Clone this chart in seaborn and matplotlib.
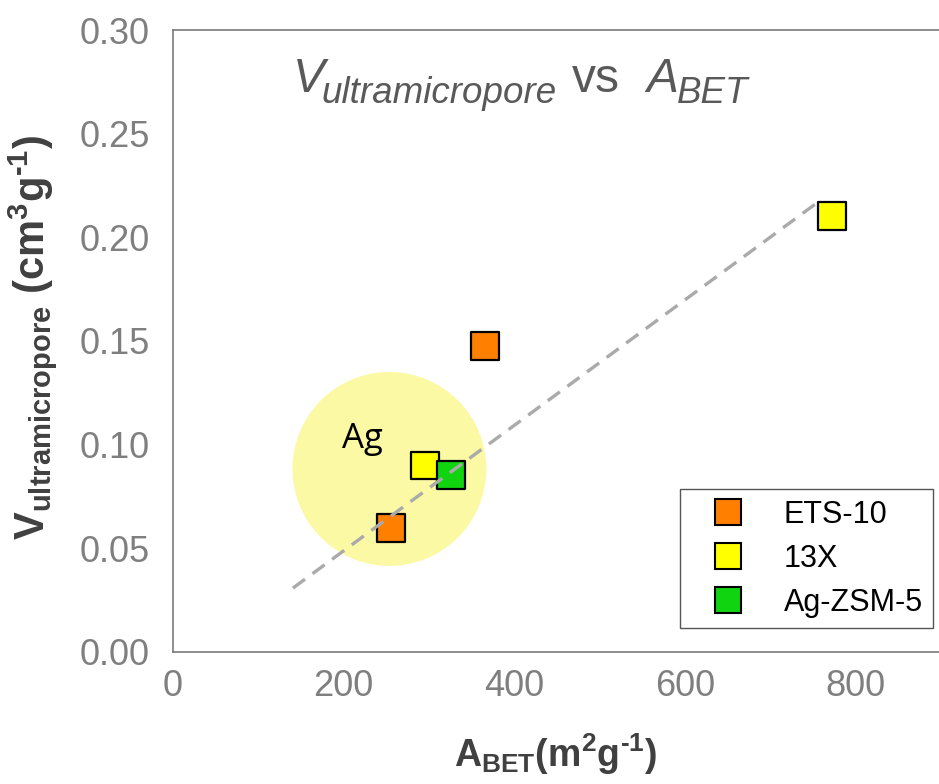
import matplotlib
matplotlib.use("Agg")
import matplotlib.pyplot as plt
import seaborn as sns
import pandas as pd
from matplotlib.patches import Ellipse
from matplotlib.lines import Line2D
from matplotlib.ticker import MultipleLocator

# ---------------- data ----------------
materials = ["ETS-10", "ETS-10", "13X", "13X", "Ag-ZSM-5"]
a_bet = [256, 366, 296, 772, 326]                    # m2/g
v_ultra = [0.0597, 0.1475, 0.0898, 0.2103, 0.0854]   # cm3/g
legend_order = ["ETS-10", "13X", "Ag-ZSM-5"]
colors = ["#FF7F00", "#FFFF00", "#11D411"]
fit_x = [141, 756]
fit_y = [0.0307, 0.2170]
x_ticks = [0, 200, 400, 600, 800]
y_ticks = [0.00, 0.05, 0.10, 0.15, 0.20, 0.25, 0.30]
ag_label = "Ag"
ag_center = (254, 0.0882)
ag_size = (227, 0.0936)

df = pd.DataFrame({"material": materials, "A_BET": a_bet, "V": v_ultra})
palette = dict(zip(legend_order, colors))

sns.set_style("white")
FONT = "Liberation Sans"
plt.rcParams["font.family"] = [FONT, "DejaVu Sans"]
plt.rcParams["mathtext.fontset"] = "custom"
plt.rcParams["mathtext.rm"] = FONT
plt.rcParams["mathtext.it"] = FONT + ":italic"
plt.rcParams["mathtext.bf"] = FONT + ":bold"
plt.rcParams["mathtext.default"] = "bf"

W, H = 939, 784
fig = plt.figure(figsize=(W / 100, H / 100), dpi=100)
left_px, right_px, top_px, bottom_px = 172.5, 939.0, 30.0, 651.7
ax = fig.add_axes([left_px / W, 1 - bottom_px / H,
                   (right_px - left_px) / W, (bottom_px - top_px) / H])

SPINE = "#707070"
TICKLAB = "#7f7f7f"

# highlight circle
ax.add_patch(Ellipse(ag_center, ag_size[0], ag_size[1],
                     facecolor="#fbf9a4", edgecolor="none", zorder=1))
ax.text(198, 0.0982, ag_label, fontsize=25, family=["Open Sans", "DejaVu Sans"],
        color="black", ha="left", va="baseline", zorder=2)

sns.scatterplot(data=df, x="A_BET", y="V", hue="material", palette=palette,
                marker="s", s=400, edgecolor="black", linewidth=1.6,
                legend=False, zorder=3, ax=ax)

ax.plot(fit_x, fit_y, color="#aaaaaa", lw=2.4, dashes=(4.5, 2.8), zorder=4,
        solid_capstyle="butt", dash_capstyle="butt")

ax.set_xlim(0, (right_px - left_px) / 0.854)
ax.set_ylim(0, 0.30)
ax.set_xticks(x_ticks)
ax.set_yticks(y_ticks)
ax.set_xticklabels([str(v) for v in x_ticks])
ax.set_yticklabels([f"{v:.2f}" for v in y_ticks])
ax.xaxis.set_minor_locator(MultipleLocator(100))
ax.yaxis.set_minor_locator(MultipleLocator(0.025))
ax.tick_params(which="major", direction="out", length=8.5, width=1.1,
               color=SPINE, labelsize=26, labelcolor=TICKLAB)
ax.tick_params(axis="y", which="major", pad=8)
ax.tick_params(axis="x", which="major", pad=4)
ax.tick_params(which="minor", direction="out", length=4.5, width=1.1, color=SPINE)
ax.tick_params(top=False, right=False, which="both")
ax.set_xlabel("")
ax.set_ylabel("")
for side in ["left", "bottom", "top"]:
    ax.spines[side].set_color(SPINE)
    ax.spines[side].set_linewidth(1.1)
ax.spines["right"].set_visible(False)

# axis labels
fig.text(555.7 / W, 1 - 766.7 / H, "$A_{BET}$(m$^{2}$g$^{\u20101}$)",
         fontsize=27, fontweight="bold", color="#404040",
         ha="center", va="baseline")
fig.text(44 / W, 1 - 337.5 / H, "$V_{ultramicropore}$ (cm$^{3}$g$^{\u20101}$)",
         fontsize=30, fontweight="bold", color="#404040",
         rotation=90, rotation_mode="anchor", ha="center", va="baseline")

# title (pieces)
TC = "#595959"
pieces = [  # text, x_px, baseline_px, size, style
    ("V", 293, 91.7, 34.5, "italic"),
    ("ultramicropore", 321.7, 103.3, 26.5, "italic"),
    ("vs", 571.7, 91.7, 34.5, "normal"),
    ("A", 646.7, 91.7, 34.5, "italic"),
    ("BET", 676.7, 103.3, 26.5, "italic"),
]
for txt, xp, yp, sz, st in pieces:
    fig.text(xp / W, 1 - yp / H, txt, fontsize=sz, fontstyle=st, color=TC,
             ha="left", va="baseline")

# legend
handles = [Line2D([], [], marker="s", ls="none", markersize=19,
                  markerfacecolor=palette[m], markeredgecolor="black",
                  markeredgewidth=1.5) for m in legend_order]
leg = ax.legend(handles, legend_order, loc="lower right",
                bbox_to_anchor=(933.3 / W, 1 - 628.3 / H),
                bbox_transform=fig.transFigure, borderaxespad=0,
                fontsize=22, frameon=True, fancybox=False, shadow=False,
                borderpad=0.35, handlelength=2.4, handletextpad=0.63,
                labelspacing=0.45)
leg.get_frame().set_edgecolor("#555555")
leg.get_frame().set_linewidth(1.0)
leg.get_frame().set_alpha(1)
for t in leg.get_texts():
    t.set_color("black")

fig.savefig("out.png", dpi=100)
